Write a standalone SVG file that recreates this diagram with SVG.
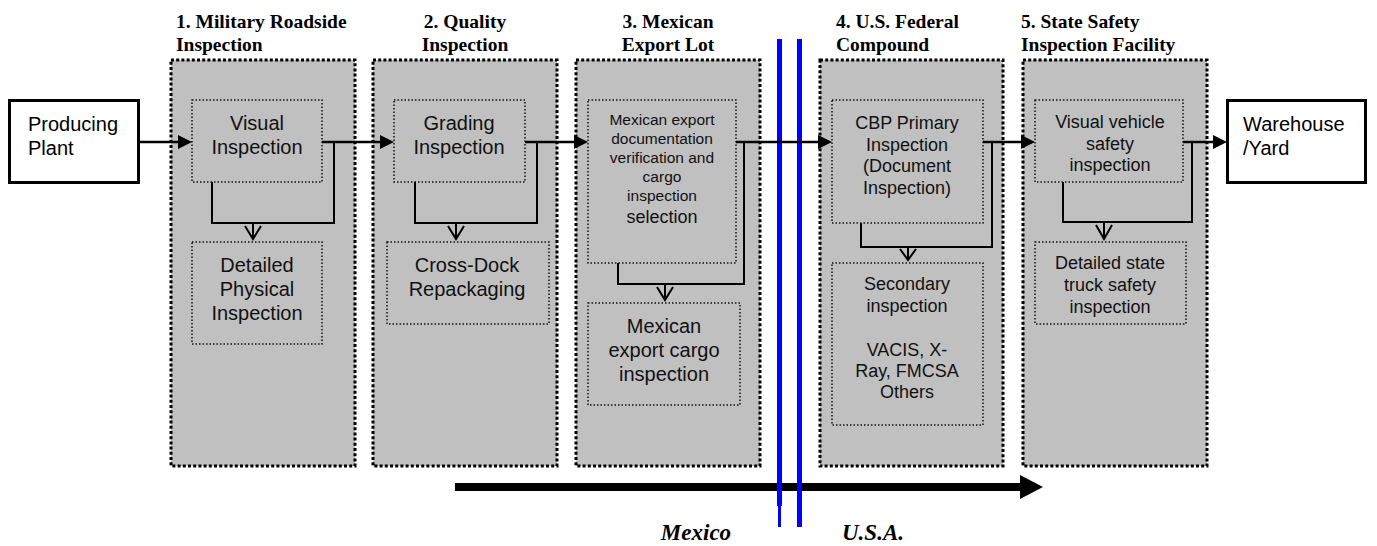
<svg xmlns="http://www.w3.org/2000/svg" width="1377" height="546" viewBox="0 0 1377 546">
<style>
.grp{fill:#c0c0c0;stroke:#000;stroke-width:3;stroke-dasharray:3 2.2}
.inner{fill:none;stroke:#111;stroke-width:1.5;stroke-dasharray:1.5 2}
.end{fill:#fff;stroke:#000;stroke-width:3}
.hd{font-family:"Liberation Serif","Times New Roman",serif;font-weight:bold;font-size:19.5px;fill:#000}
.t20{font-family:"Liberation Sans",Arial,sans-serif;font-size:20px;fill:#111;text-anchor:middle}
.t18{font-family:"Liberation Sans",Arial,sans-serif;font-size:18px;fill:#111;text-anchor:middle}
.t15{font-family:"Liberation Sans",Arial,sans-serif;font-size:15.5px;fill:#111;text-anchor:middle}
.tl{font-family:"Liberation Sans",Arial,sans-serif;font-size:20px;fill:#000}
.flow{fill:none;stroke:#000;stroke-width:2.5}
.loop{fill:none;stroke:#000;stroke-width:2}
.ah{fill:#000}
.country{font-family:"Liberation Serif","Times New Roman",serif;font-weight:bold;font-style:italic;font-size:23px;fill:#000}
</style>

<g id="bottom-arrow">
<rect x="455" y="483" width="567" height="8" fill="#000"/>
<polygon points="1043,487 1020,475 1020,499" fill="#000"/>
</g>

<g id="border">
<rect x="777" y="39" width="5" height="467" fill="#0000ff"/>
<rect x="778" y="505" width="3" height="22" fill="#0000ff"/>
<rect x="797" y="39" width="5" height="488" fill="#0000ff"/>
</g>

<g id="producing-plant">
<rect class="end" x="9.5" y="100.5" width="129" height="82"/>
<text class="tl" x="28" y="131">Producing</text>
<text class="tl" x="28" y="155">Plant</text>
</g>

<g id="warehouse">
<rect class="end" x="1227.5" y="100.5" width="138" height="82"/>
<text class="tl" x="1243" y="131">Warehouse</text>
<text class="tl" x="1243" y="155">/Yard</text>
</g>

<g id="stage1">
<rect class="grp" x="171" y="60" width="184" height="406"/>
<text class="hd" x="176" y="28">1. Military Roadside</text>
<text class="hd" x="176" y="51">Inspection</text>
</g>
<g id="visual-inspection">
<rect class="inner" x="192" y="100" width="130" height="82"/>
<text class="t20" x="257" y="130">Visual</text>
<text class="t20" x="257" y="154">Inspection</text>
</g>
<g id="detailed-physical">
<rect class="inner" x="192" y="242" width="130" height="102"/>
<text class="t20" x="257" y="272">Detailed</text>
<text class="t20" x="257" y="296">Physical</text>
<text class="t20" x="257" y="320">Inspection</text>
</g>

<g id="stage2">
<rect class="grp" x="373" y="60" width="184" height="406"/>
<text class="hd" x="465" y="28" text-anchor="middle">2. Quality</text>
<text class="hd" x="465" y="51" text-anchor="middle">Inspection</text>
</g>
<g id="grading-inspection">
<rect class="inner" x="394" y="100" width="131" height="82"/>
<text class="t20" x="459" y="130">Grading</text>
<text class="t20" x="459" y="154">Inspection</text>
</g>
<g id="cross-dock">
<rect class="inner" x="387" y="242" width="162" height="82"/>
<text class="t20" x="467" y="272">Cross-Dock</text>
<text class="t20" x="467" y="296">Repackaging</text>
</g>

<g id="stage3">
<rect class="grp" x="576" y="60" width="184" height="406"/>
<text class="hd" x="668" y="28" text-anchor="middle">3. Mexican</text>
<text class="hd" x="668" y="51" text-anchor="middle">Export Lot</text>
</g>
<g id="mex-doc">
<rect class="inner" x="588" y="100" width="148" height="163"/>
<text class="t15" x="662" y="125">Mexican export</text>
<text class="t15" x="662" y="144">documentation</text>
<text class="t15" x="662" y="163">verification and</text>
<text class="t15" x="662" y="182">cargo</text>
<text class="t15" x="662" y="201">inspection</text>
<text class="t18" x="662" y="223">selection</text>
</g>
<g id="mex-cargo">
<rect class="inner" x="588" y="303" width="152" height="102"/>
<text class="t20" x="664" y="333">Mexican</text>
<text class="t20" x="664" y="357">export cargo</text>
<text class="t20" x="664" y="381">inspection</text>
</g>

<g id="stage4">
<rect class="grp" x="820" y="60" width="183" height="406"/>
<text class="hd" x="836" y="28">4. U.S. Federal</text>
<text class="hd" x="836" y="51">Compound</text>
</g>
<g id="cbp-primary">
<rect class="inner" x="832" y="100" width="151" height="123"/>
<text class="t18" x="907" y="129">CBP Primary</text>
<text class="t18" x="907" y="151">Inspection</text>
<text class="t18" x="907" y="172">(Document</text>
<text class="t18" x="907" y="194">Inspection)</text>
</g>
<g id="secondary">
<rect class="inner" x="832" y="263" width="151" height="162"/>
<text class="t18" x="907" y="290">Secondary</text>
<text class="t18" x="907" y="312">inspection</text>
<text class="t18" x="907" y="356">VACIS, X-</text>
<text class="t18" x="907" y="377">Ray, FMCSA</text>
<text class="t18" x="907" y="398">Others</text>
</g>

<g id="stage5">
<rect class="grp" x="1023" y="60" width="184" height="406"/>
<text class="hd" x="1021" y="28">5. State Safety</text>
<text class="hd" x="1021" y="51">Inspection Facility</text>
</g>
<g id="visual-vehicle">
<rect class="inner" x="1035" y="100" width="148" height="82"/>
<text class="t18" x="1110" y="128">Visual vehicle</text>
<text class="t18" x="1110" y="150">safety</text>
<text class="t18" x="1110" y="171">inspection</text>
</g>
<g id="detailed-state">
<rect class="inner" x="1035" y="242" width="151" height="82"/>
<text class="t18" x="1110" y="269">Detailed state</text>
<text class="t18" x="1110" y="291">truck safety</text>
<text class="t18" x="1110" y="313">inspection</text>
</g>

<g id="connectors">
<line class="flow" x1="139" y1="142" x2="180" y2="142"/>
<polygon class="ah" points="192,142 178,135 178,149"/>
<line class="flow" x1="322" y1="142" x2="382" y2="142"/>
<polygon class="ah" points="394,142 380,135 380,149"/>
<line class="flow" x1="525" y1="142" x2="576" y2="142"/>
<polygon class="ah" points="588,142 574,135 574,149"/>
<line class="flow" x1="736" y1="142" x2="820" y2="142"/>
<polygon class="ah" points="832,142 818,135 818,149"/>
<line class="flow" x1="983" y1="142" x2="1023" y2="142"/>
<polygon class="ah" points="1035,142 1021,135 1021,149"/>
<line class="flow" x1="1183" y1="142" x2="1215" y2="142"/>
<polygon class="ah" points="1227,142 1213,135 1213,149"/>

<polyline class="loop" points="212,182 212,223 334,223 334,142"/>
<line class="loop" x1="253" y1="223" x2="253" y2="238"/>
<polyline class="loop" points="245,226 253,239 261,226"/>

<polyline class="loop" points="415,182 415,223 537,223 537,142"/>
<line class="loop" x1="456" y1="223" x2="456" y2="238"/>
<polyline class="loop" points="448,226 456,239 464,226"/>

<polyline class="loop" points="618,263 618,284 744,284 744,142"/>
<line class="loop" x1="665" y1="284" x2="665" y2="299"/>
<polyline class="loop" points="657,287 665,300 673,287"/>

<polyline class="loop" points="861,223 861,247 992,247 992,142"/>
<line class="loop" x1="908" y1="247" x2="908" y2="259"/>
<polyline class="loop" points="900,249 908,260 916,249"/>

<polyline class="loop" points="1063,182 1063,222 1192,222 1192,142"/>
<line class="loop" x1="1104" y1="222" x2="1104" y2="238"/>
<polyline class="loop" points="1096,225 1104,239 1112,225"/>
</g>

<g id="labels">
<text class="country" x="696" y="540" text-anchor="middle">Mexico</text>
<text class="country" x="873" y="540" text-anchor="middle">U.S.A.</text>
</g>
</svg>
